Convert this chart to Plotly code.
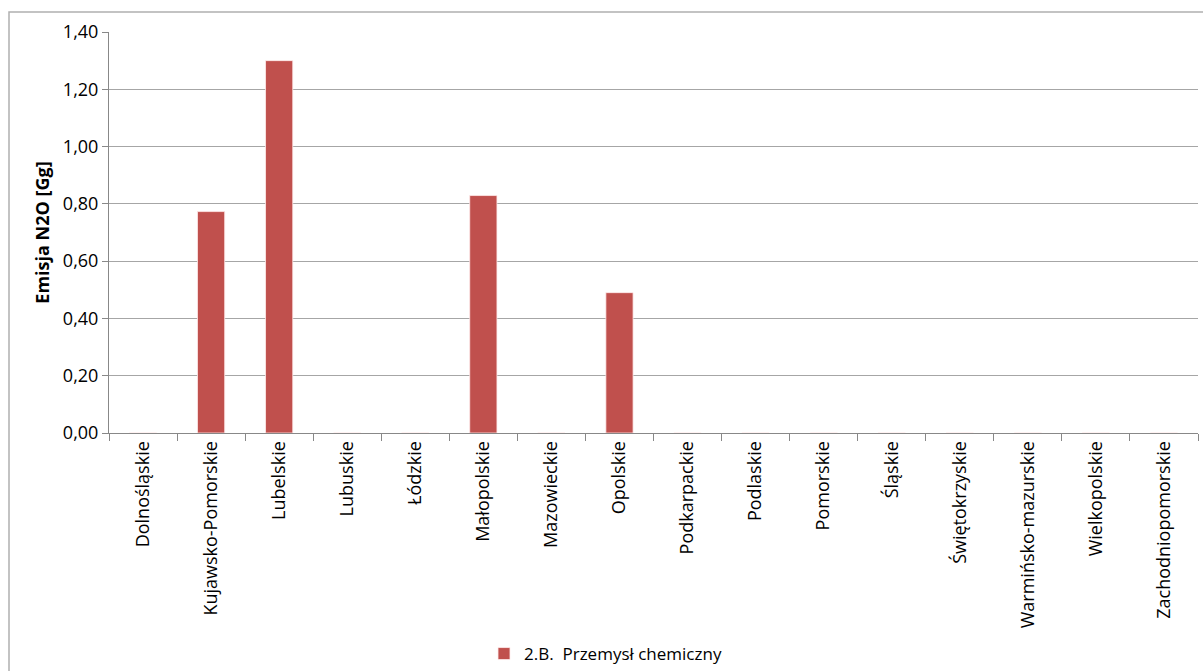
import plotly.graph_objects as go

categories = ["Dolnośląskie", "Kujawsko-Pomorskie", "Lubelskie", "Lubuskie", "Łódzkie",
              "Małopolskie", "Mazowieckie", "Opolskie", "Podkarpackie", "Podlaskie",
              "Pomorskie", "Śląskie", "Świętokrzyskie", "Warmińsko-mazurskie",
              "Wielkopolskie", "Zachodniopomorskie"]
values = [0, 0.773, 1.30, 0, 0, 0.829, 0, 0.49, 0, 0, 0, 0, 0, 0, 0, 0]
series_name = "2.B.  Przemysł chemiczny"
y_ticks = [0, 0.2, 0.4, 0.6, 0.8, 1.0, 1.2, 1.4]

W, H = 1203, 671
L, R, T, B = 109, 5, 32, 238
pw, ph = W - L - R, H - T - B

fig = go.Figure()
fig.add_trace(go.Bar(
    x=categories, y=values, name=series_name,
    marker=dict(color="#C0504D", line=dict(color="rgba(255,235,235,0.8)", width=1)),
    width=0.4, showlegend=True,
))

font = "Open Sans"
fig.update_layout(
    width=W, height=H,
    margin=dict(l=L, r=R, t=T, b=B, autoexpand=False),
    paper_bgcolor="white", plot_bgcolor="white",
    separators=",.",
    font=dict(family=font, color="black", size=17),
    showlegend=True,
    legend=dict(orientation="h", x=(484 - L) / pw, xanchor="left",
                y=-(654 - (T + ph)) / ph, yanchor="middle",
                font=dict(size=17, family=font), itemwidth=30,
                bgcolor="rgba(0,0,0,0)"),
    yaxis=dict(range=[0, 1.4], tickvals=y_ticks, tickformat=".2f",
               showgrid=True, gridcolor="#A6A6A6", gridwidth=1,
               showline=True, linecolor="#888888", linewidth=1,
               ticks="outside", ticklen=6, tickcolor="#888888",
               tickfont=dict(size=18, family=font),
               zeroline=False, automargin=False,
               title=dict(text="<b>Emisja N2O [Gg]</b>", font=dict(size=18, family=font),
                          standoff=8)),
    xaxis=dict(showline=True, linecolor="#888888", linewidth=1,
               ticks="outside", tickson="boundaries", ticklen=7, tickcolor="#888888",
               tickangle=-90, tickfont=dict(size=18, family=font),
               showgrid=False, automargin=False),
    bargap=0.6,
)

# outer chart border
fig.add_shape(type="rect", xref="paper", yref="paper",
              x0=(9 - L) / pw, x1=(W + 5 - L) / pw,
              y0=-(H + 5 - (T + ph)) / ph, y1=(T + ph - 12) / ph,
              line=dict(color="#B0B0B0", width=1.5), layer="below")

fig.write_html("out.html",
               config={"displayModeBar": False},
               post_script="document.body.style.margin='0';document.body.style.overflow='hidden';")
